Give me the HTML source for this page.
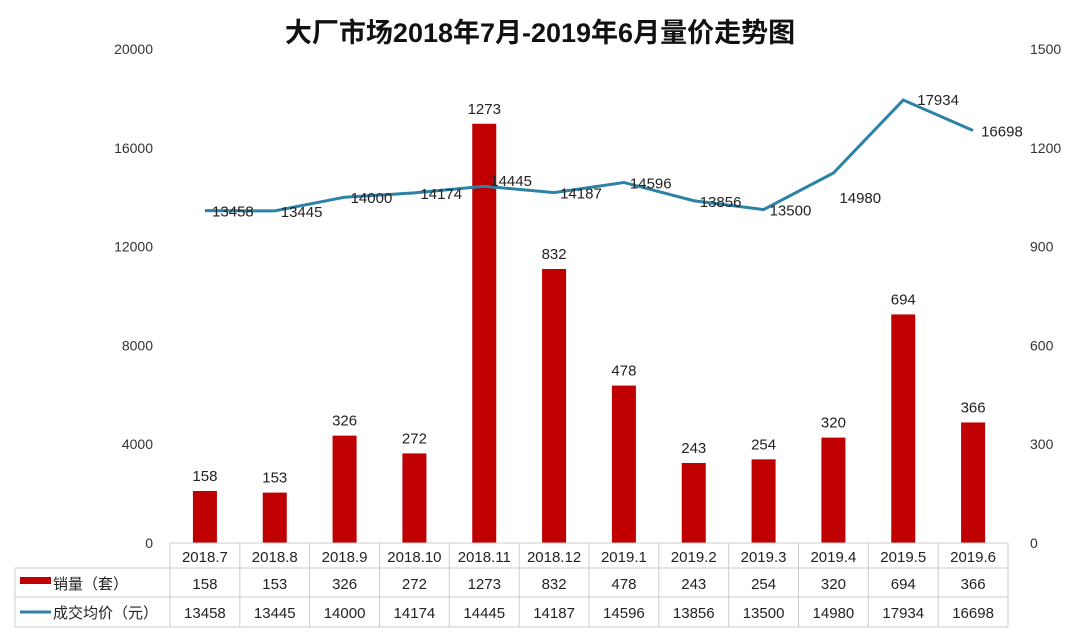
<!DOCTYPE html>
<html><head><meta charset="utf-8"><style>
body{margin:0;background:#fff;}
svg text{font-family:"Liberation Sans","Noto Sans CJK SC",sans-serif;}
</style></head><body>
<svg id="c" width="1080" height="628" viewBox="0 0 1080 628" xmlns="http://www.w3.org/2000/svg">
<text x="540" y="42" text-anchor="middle" font-size="27" font-weight="bold" fill="#111">大厂市场2018年7月-2019年6月量价走势图</text>
<g id="g"></g>
</svg>
<script>
const categories=["2018.7","2018.8","2018.9","2018.10","2018.11","2018.12","2019.1","2019.2","2019.3","2019.4","2019.5","2019.6"];
const sales=[158,153,326,272,1273,832,478,243,254,320,694,366];
const prices=[13458,13445,14000,14174,14445,14187,14596,13856,13500,14980,17934,16698];
const leftTicks=[0,4000,8000,12000,16000,20000];
const rightTicks=[0,300,600,900,1200,1500];
const NS="http://www.w3.org/2000/svg";
const g=document.getElementById('g');
const x0=170,x1=1008,yB=543,yT=49;
const bw=(x1-x0)/categories.length;
const xc=i=>x0+bw*(i+0.5);
const yL=v=>yB-v/20000*(yB-yT);
const yR=v=>yB-v/1500*(yB-yT);
function mk(t,a,txt){const e=document.createElementNS(NS,t);for(const k in a)e.setAttribute(k,a[k]);if(txt!==undefined)e.textContent=txt;g.appendChild(e);return e;}
leftTicks.forEach(v=>{const e=mk('text',{x:153,y:yL(v)+5,'text-anchor':'end','font-size':14,fill:'#333'},v);

});
rightTicks.forEach(v=>{const e=mk('text',{x:1030,y:yR(v)+5,'text-anchor':'start','font-size':14,fill:'#333'},v);

});
sales.forEach((v,i)=>{const r=mk('rect',{x:xc(i)-12,y:yR(v),width:24,height:yB-yR(v),fill:'#c00000'});


const t=mk('text',{x:xc(i),y:yR(v)-10,'text-anchor':'middle','font-size':15,fill:'#222'},v);

});
const pl=mk('polyline',{points:prices.map((v,i)=>xc(i)+','+yL(v)).join(' '),fill:'none',stroke:'#2c82a6','stroke-width':3});


prices.forEach((v,i)=>{const t=mk('text',{x:xc(i)+(i==0?-7:i==11?8:6),y:yL(v)+(i==4||i==10?-0:6),'text-anchor':i==0?'middle':'start','font-size':15,fill:'#222'},v);
if(i==0){t.setAttribute('x',xc(i)+28);}
if(i==10){t.setAttribute('x',xc(i)+14);t.setAttribute('y',yL(v)+5);}
if(i==9){t.setAttribute('x',xc(i)+6);t.setAttribute('y',yL(v)+30);}

});
// table
const rows=[543,568,597,627];
mk('line',{x1:x0,y1:543,x2:x1,y2:543,stroke:'#ccc'});
[568,597,627].forEach(y=>mk('line',{x1:15,y1:y,x2:x1,y2:y,stroke:'#ccc'}));
mk('line',{x1:15,y1:568,x2:15,y2:627,stroke:'#ccc'});
for(let i=0;i<=categories.length;i++)mk('line',{x1:x0+bw*i,y1:543,x2:x0+bw*i,y2:627,stroke:'#ccc'});
categories.forEach((c,i)=>{const t=mk('text',{x:xc(i),y:562,'text-anchor':'middle','font-size':15,fill:'#222'},c);


const a=mk('text',{x:xc(i),y:589,'text-anchor':'middle','font-size':15,fill:'#222'},sales[i]);


const b=mk('text',{x:xc(i),y:618,'text-anchor':'middle','font-size':15,fill:'#222'},prices[i]);

});
const lk1=mk('rect',{x:20,y:577,width:31,height:7,fill:'#c00000'});


const lt1=mk('text',{x:53,y:589,'font-size':15,fill:'#222'},'销量（套）');


const lk2=mk('line',{x1:20,y1:612,x2:51,y2:612,stroke:'#2c82a6','stroke-width':3});


const lt2=mk('text',{x:53,y:618,'font-size':15,fill:'#222'},'成交均价（元）');


</script>
</body></html>
